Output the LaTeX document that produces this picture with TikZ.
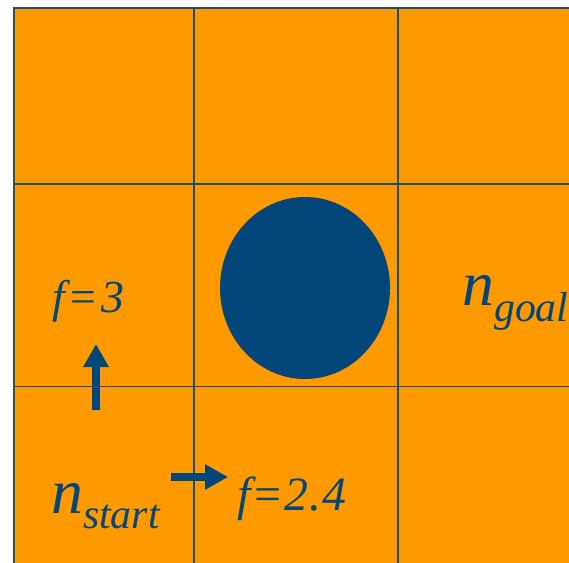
\documentclass[tikz,border=0pt]{standalone}
\usepackage{fontspec}
\setmainfont{Liberation Serif}[ItalicFont={Liberation Serif Italic}]
\usetikzlibrary{arrows.meta}
\definecolor{cellorange}{HTML}{FF9900}
\definecolor{darkblue}{HTML}{03467A}
\definecolor{gridblue}{HTML}{1E4E7A}
\tikzset{
  gridline/.style={draw=gridblue, line width=1.6bp},
  lbl/.style={inner sep=0pt, text=darkblue, font=\itshape},
  moveArrow/.style={draw=darkblue, line width=8bp, -{Triangle[width=24bp,length=23bp]}},
}
\begin{document}
\begin{tikzpicture}[x=1bp,y=-1bp]
\useasboundingbox (0,0) rectangle (569,563);
\begin{scope}
\clip (0,0) rectangle (569,563);
\fill[cellorange] (14,8) rectangle (600,600);
\draw[gridline] (14,600) -- (14,8) -- (600,8);
\draw[gridline] (194,8) -- (194,600);
\draw[gridline] (398,8) -- (398,600);
\draw[gridline] (14,184) -- (600,184);
\draw[gridline] (14,386.5) -- (600,386.5);
\fill[darkblue] (305,288) ellipse [x radius=85, y radius=91];
\node[lbl, anchor=base west] (goal) at (462,305) {\fontsize{64}{64}\selectfont n\raisebox{-16bp}{\fontsize{42}{42}\selectfont goal}};
\end{scope}
\node[lbl, anchor=base west] (start) at (51,513) {\fontsize{64}{64}\selectfont n\raisebox{-15bp}{\fontsize{42}{42}\selectfont start}};
\node[lbl, anchor=base west] (f3) at (52,312) {\fontsize{46}{46}\selectfont\addfontfeature{LetterSpace=6}f=3};
\node[lbl, anchor=base west] (f24) at (237,510) {\fontsize{48}{48}\selectfont\addfontfeature{LetterSpace=2}f=2.4};
\coordinate (upFrom) at (96,410);
\coordinate (upTo) at (96,344);
\coordinate (rtFrom) at (171,477);
\coordinate (rtTo) at (228,477);
\draw[moveArrow] (upFrom) -- (upTo);
\draw[moveArrow] (rtFrom) -- (rtTo);
\end{tikzpicture}
\end{document}
